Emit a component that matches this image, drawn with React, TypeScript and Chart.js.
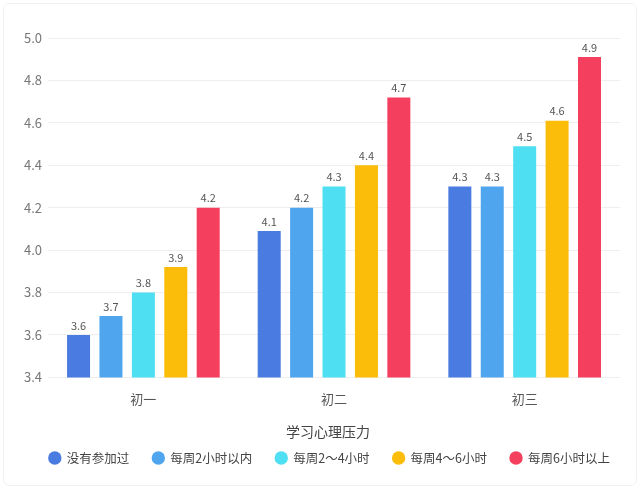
import React, { useEffect, useRef } from "react";
import { Chart, registerables } from "chart.js";

Chart.register(...registerables);

const categories = ["初一", "初二", "初三"];
const seriesNames = ["没有参加过", "每周2小时以内", "每周2～4小时", "每周4～6小时", "每周6小时以上"];
const noneValues = [3.6, 4.09, 4.3];
const under2Values = [3.69, 4.2, 4.3];
const from2to4Values = [3.8, 4.3, 4.49];
const from4to6Values = [3.92, 4.4, 4.61];
const over6Values = [4.2, 4.72, 4.91];
const seriesColors = ["#4a7be0", "#50a6ee", "#4fdff2", "#fbbd0a", "#f53f5e"];
const yTicks = [3.4, 3.6, 3.8, 4.0, 4.2, 4.4, 4.6, 4.8, 5.0];
const axisTitle = "学习心理压力";

const FONT = "'Helvetica Neue', 'Noto Sans CJK SC', 'Noto Sans', sans-serif";

const valueLabelPlugin = {
  id: "valueLabels",
  afterDatasetsDraw(chart: any) {
    const ctx = chart.ctx;
    ctx.save();
    ctx.font = `11px ${FONT}`;
    ctx.fillStyle = "#555";
    ctx.textAlign = "center";
    ctx.textBaseline = "bottom";
    chart.data.datasets.forEach((ds: any, i: number) => {
      const meta = chart.getDatasetMeta(i);
      meta.data.forEach((bar: any, j: number) => {
        const v = ds.data[j];
        ctx.fillText(Number(v).toFixed(1), bar.x, bar.y - 4);
      });
    });
    ctx.restore();
  },
};

// Axis title and legend drawn below the x axis
const bottomPlugin = {
  id: "bottomLegend",
  afterDraw(chart: any) {
    const ctx = chart.ctx;
    const cx = (chart.chartArea.left + chart.chartArea.right) / 2 - 6;
    ctx.save();
    // frame
    ctx.strokeStyle = "#f0f0f0";
    ctx.lineWidth = 1;
    ctx.beginPath();
    ctx.roundRect(3.5, 3.5, chart.width - 7, chart.height - 7, 6);
    ctx.stroke();
    // axis title
    ctx.font = `14px ${FONT}`;
    ctx.fillStyle = "#444";
    ctx.textAlign = "center";
    ctx.textBaseline = "middle";
    ctx.fillText(axisTitle, cx, chart.height - 57);
    // legend
    const y = chart.height - 31;
    ctx.font = `12.5px ${FONT}`;
    const r = 6.7;
    const textOff = 12;
    const gap = 29;
    const items = chart.data.datasets.map((ds: any) => ({
      label: ds.label,
      color: ds.backgroundColor,
      w: ctx.measureText(ds.label).width,
    }));
    let total = r;
    items.forEach((it: any, i: number) => {
      total += textOff + it.w;
      if (i > 0) total += gap;
    });
    let x = cx + 1 - total / 2 + r;
    ctx.textAlign = "left";
    items.forEach((it: any, i: number) => {
      if (i > 0) x += gap;
      ctx.fillStyle = it.color;
      ctx.beginPath();
      ctx.arc(x, y, r, 0, Math.PI * 2);
      ctx.fill();
      ctx.fillStyle = "#444";
      ctx.fillText(it.label, x + textOff, y);
      x += textOff + it.w;
    });
    ctx.restore();
  },
};

export default function App() {
  const ref = useRef<HTMLCanvasElement>(null);
  useEffect(() => {
    const allValues = [noneValues, under2Values, from2to4Values, from4to6Values, over6Values];
    const chart = new Chart(ref.current!, {
      type: "bar",
      data: {
        labels: categories,
        datasets: allValues.map((vals, i) => ({
          label: seriesNames[i],
          data: vals,
          backgroundColor: seriesColors[i],
          borderWidth: 0,
          barPercentage: 0.71,
          categoryPercentage: 0.85,
        })),
      },
      options: {
        animation: false,
        responsive: true,
        maintainAspectRatio: false,
        layout: { padding: { top: 38, right: 20, left: 18, bottom: 68 } },
        plugins: {
          legend: { display: false },
          tooltip: { enabled: false },
        },
        scales: {
          x: {
            grid: { display: false, drawTicks: false },
            border: { display: false },
            ticks: { color: "#555", font: { size: 13, family: FONT }, padding: 14 },
          },
          y: {
            min: 3.4,
            max: 5.0,
            afterBuildTicks: (axis: any) => {
              axis.ticks = yTicks.map((v) => ({ value: v }));
            },
            grid: { color: "#eeeeee", drawTicks: false },
            border: { display: false },
            ticks: {
              color: "#777",
              font: { size: 13, family: FONT },
              padding: 6,
              callback: (v: any) => Number(v).toFixed(1),
            },
          },
        },
      },
      plugins: [valueLabelPlugin, bottomPlugin],
    });
    return () => chart.destroy();
  }, []);
  return (
    <div style={{ position: "absolute", left: 0, top: 0, width: 640, height: 489, background: "#fff" }}>
      <canvas ref={ref} />
    </div>
  );
}
